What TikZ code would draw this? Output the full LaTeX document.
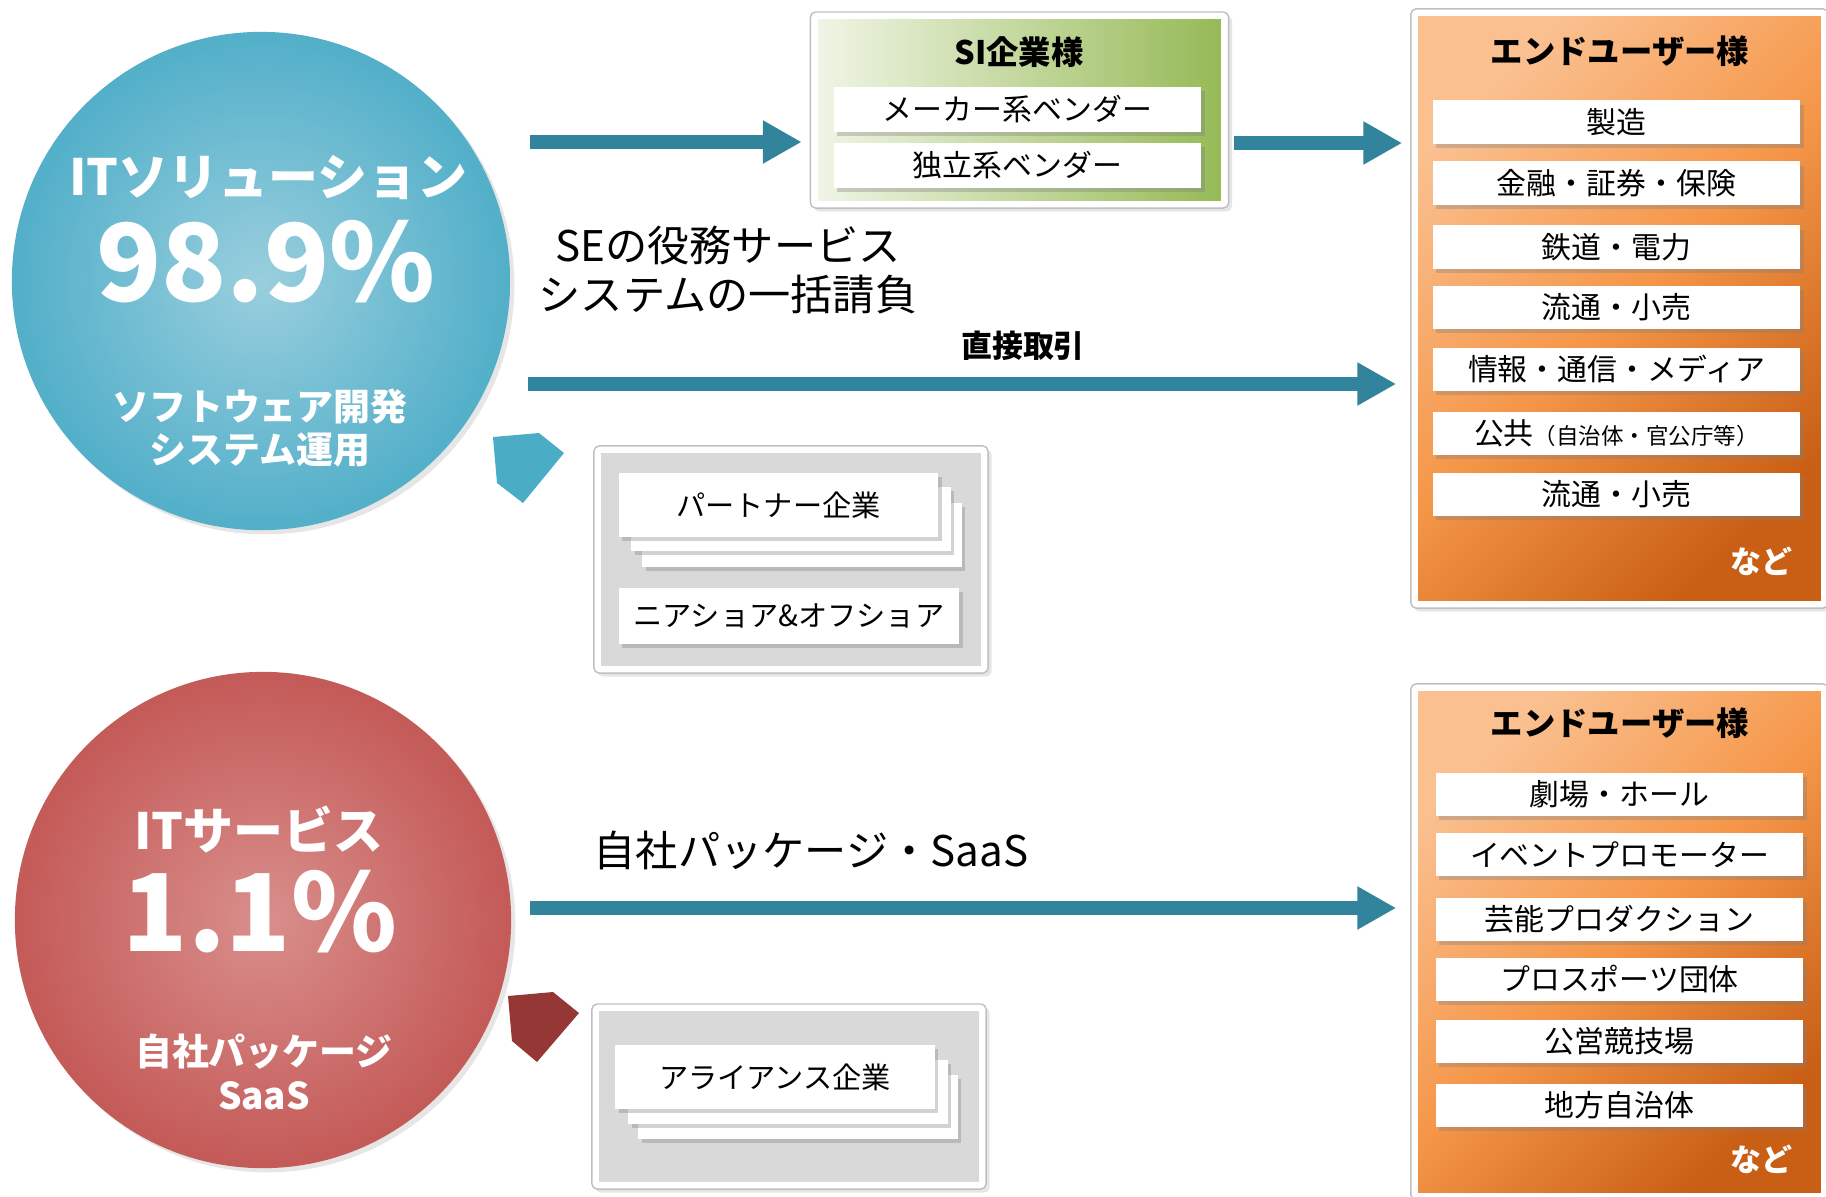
\documentclass[tikz,border=0pt]{standalone}
\usepackage{fontspec}
\setmainfont{Noto Sans CJK JP}
\usepackage{tikz}
\usetikzlibrary{arrows.meta,shapes,shadows}
\definecolor{tealbar}{RGB}{49,132,155}
\definecolor{pblue}{RGB}{75,172,198}
\definecolor{pred}{RGB}{149,55,53}
\definecolor{panelgray}{RGB}{217,217,217}
\definecolor{olight}{RGB}{250,192,144}
\definecolor{omid}{RGB}{245,150,72}
\definecolor{odark}{RGB}{200,95,20}
\definecolor{glight}{RGB}{240,245,230}
\definecolor{gdark}{RGB}{150,186,86}
\pgfdeclareradialshading{blueball}{\pgfpoint{0bp}{0bp}}{rgb(0bp)=(0.60,0.81,0.87);rgb(24bp)=(0.33,0.69,0.79);rgb(42bp)=(0.28,0.60,0.70);rgb(50bp)=(0.25,0.54,0.63)}
\pgfdeclareradialshading{redball}{\pgfpoint{0bp}{0bp}}{rgb(0bp)=(0.85,0.56,0.55);rgb(24bp)=(0.77,0.36,0.35);rgb(42bp)=(0.68,0.29,0.28);rgb(50bp)=(0.62,0.26,0.25)}
\tikzstyle{ball}=[circle, inner sep=0, drop shadow={shadow xshift=1.2pt,shadow yshift=-1.2pt,opacity=.2}]
\tikzstyle{hd}=[text=white, font=\bfseries\fontsize{14.2}{17}\selectfont]
\tikzstyle{pct}=[text=white, font=\bfseries\fontsize{30.5}{36}\selectfont]
\tikzstyle{sub}=[text=white, font=\bfseries\fontsize{10.5}{12.3}\selectfont, align=center]
\tikzstyle{bar}=[draw=tealbar, line width=4pt, -{Triangle[length=11pt,width=11.5pt]}]
\tikzstyle{frm}=[draw=black!25, fill=white, rounded corners=1.5pt, inner sep=0, drop shadow={shadow xshift=1pt,shadow yshift=-1pt,opacity=.2}]
\tikzstyle{pnl}=[draw=white, line width=0.8pt, inner sep=0]
\tikzstyle{itm}=[fill=white, inner sep=0, minimum width=3.67cm, minimum height=0.43cm, font=\fontsize{8.5}{10}\selectfont, drop shadow={shadow xshift=1pt,shadow yshift=-1.2pt,opacity=.35}]
\tikzstyle{card}=[fill=white, inner sep=0, minimum width=3.19cm, minimum height=0.64cm, font=\fontsize{8.3}{10}\selectfont, drop shadow={shadow xshift=1pt,shadow yshift=-1pt,opacity=.35}]
\tikzstyle{ttl}=[font=\bfseries\fontsize{9.2}{11}\selectfont]
\tikzstyle{big}=[font=\fontsize{12}{14.2}\selectfont, align=center]
\tikzstyle{etc}=[text=white, font=\bfseries\fontsize{8.8}{10}\selectfont]

\begin{document}
\begin{tikzpicture}[x=0.01cm, y=-0.01cm]
\useasboundingbox (0,0) rectangle (1826,1196);
\node[ball, shading=blueball, minimum size=4.98cm] (sol) at (261,281) {};
\node[ball, shading=redball, minimum size=4.96cm] (svc) at (263,920) {};
\node[hd] (solt) at (268,178) {ITソリューション};
\node[pct] (solp) at (266,262) {98.9\%};
\node[sub] (sols) at (260,428) {ソフトウェア開発\\システム運用};
\node[hd] (svct) at (259,830) {ITサービス};
\node[pct] (svcp) at (260,912) {1.1\%};
\node[sub] (svcs) at (264,1072) {自社パッケージ\\SaaS};

\node[frm, minimum width=4.18cm, minimum height=1.96cm] (si) at (1019.5,110) {};
\node[pnl, left color=glight, right color=gdark, minimum width=4.06cm, minimum height=1.84cm] (sip) at (si) {};
\node[ttl] (sit) at (1019,52) {SI企業様};
\node[itm, minimum height=0.45cm] (si1) at (1017.5,109.5) {メーカー系ベンダー};
\node[itm, minimum height=0.45cm] (si2) at (1017.5,165.5) {独立系ベンダー};

\node[frm, minimum width=4.17cm, minimum height=5.99cm] (eu1) at (1619.5,308.5) {};
\node[pnl, top color=olight, bottom color=odark, middle color=omid, shading angle=45, minimum width=4.05cm, minimum height=5.87cm] (eu1p) at (eu1) {};
\node[ttl] (eu1t) at (1620,51) {エンドユーザー様};
\node[itm] (u1) at (1616.5,122) {製造};
\node[itm] (u2) at (1616.5,183) {金融・証券・保険};
\node[itm] (u3) at (1616.5,247) {鉄道・電力};
\node[itm] (u4) at (1616.5,307) {流通・小売};
\node[itm] (u5) at (1616.5,369) {情報・通信・メディア};
\node[itm] (u6) at (1616.5,433) {公共{\fontsize{6.4}{8}\selectfont（自治体・官公庁等）}};
\node[itm] (u7) at (1616.5,494) {流通・小売};
\node[etc] (nd1) at (1761,561) {など};

\node[frm, minimum width=4.17cm, minimum height=5.16cm] (eu2) at (1619.5,942) {};
\node[pnl, top color=olight, bottom color=odark, middle color=omid, shading angle=45, minimum width=4.05cm, minimum height=5.04cm] (eu2p) at (eu2) {};
\node[ttl] (eu2t) at (1620,723) {エンドユーザー様};
\node[itm] (v1) at (1619.5,794) {劇場・ホール};
\node[itm] (v2) at (1619.5,854.5) {イベントプロモーター};
\node[itm] (v3) at (1619.5,919) {芸能プロダクション};
\node[itm] (v4) at (1619.5,979) {プロスポーツ団体};
\node[itm] (v5) at (1619.5,1041.5) {公営競技場};
\node[itm] (v6) at (1619.5,1105) {地方自治体};
\node[etc] (nd2) at (1761,1159) {など};

\node[frm, minimum width=3.94cm, minimum height=2.27cm] (gb1) at (791,559.5) {};
\node[pnl, fill=panelgray, minimum width=3.82cm, minimum height=2.15cm] (gb1p) at (gb1) {};
\node[card] (pt3) at (802,535) {};
\node[card] (pt2) at (791,519) {};
\node[card] (pt1) at (778.5,505) {パートナー企業};
\node[card, minimum width=3.40cm, minimum height=0.56cm] (ns) at (789,616) {ニアショア\&オフショア};

\node[frm, minimum width=3.94cm, minimum height=1.85cm] (gb2) at (789,1096.5) {};
\node[pnl, fill=panelgray, minimum width=3.82cm, minimum height=1.73cm] (gb2p) at (gb2) {};
\node[card] (al3) at (798,1107) {};
\node[card] (al2) at (788,1092) {};
\node[card] (al1) at (775,1077) {アライアンス企業};

\fill[pblue] (493,437) -- (539,433) -- (564,453) -- (523,503) -- (497,483) -- cycle;
\fill[pred] (508,996) -- (553,992) -- (579,1013) -- (537,1062) -- (512,1041) -- cycle;

\node[big] (se) at (728,270) {SEの役務サービス\\システムの一括請負};
\node[font=\bfseries\fontsize{8.8}{10}\selectfont] (dt) at (1023,346) {直接取引};
\node[big] (pk) at (811,850) {自社パッケージ・SaaS};

\coordinate (a1) at (530,142);
\coordinate (a2) at (1234,143);
\coordinate (a3) at (528,384);
\coordinate (a4) at (530,908);
\draw[bar, shorten >=0.08cm] (a1) -- (a1 -| si.west);
\draw[bar, shorten >=0.08cm] (a2) -- (a2 -| eu1.west);
\draw[bar, shorten >=0.14cm] (a3) -- (a3 -| eu1.west);
\draw[bar, shorten >=0.14cm] (a4) -- (a4 -| eu2.west);
\end{tikzpicture}
\end{document}
